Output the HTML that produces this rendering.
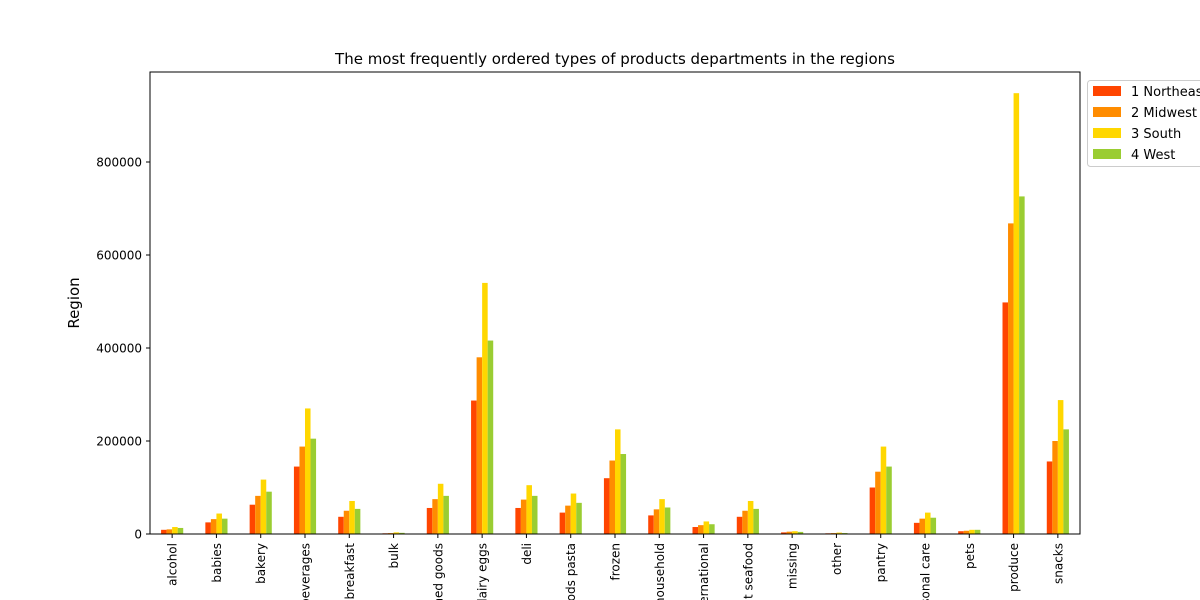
<!DOCTYPE html>
<html><head><meta charset="utf-8"><style>
html,body{margin:0;padding:0;background:#fff;width:1200px;height:600px;overflow:hidden}
svg{display:block;font-family:"DejaVu Sans","Liberation Sans",sans-serif;overflow:hidden}
</style></head><body>
<svg id="chart" width="1200" height="600" viewBox="0 0 1200 600" xmlns="http://www.w3.org/2000/svg">
<text x="615" y="64" font-size="15" text-anchor="middle">The most frequently ordered types of products departments in the regions</text>
<text transform="translate(79,303) rotate(-90)" font-size="15" text-anchor="middle">Region</text>
<g id="bars"></g>
<g id="axes"></g>
<g id="legend"></g>
</svg>
<script>
const categories=["alcohol","babies","bakery","beverages","breakfast","bulk","canned goods","dairy eggs","deli","dry goods pasta","frozen","household","international","meat seafood","missing","other","pantry","personal care","pets","produce","snacks"];
const seriesNames=["1 Northeast","2 Midwest","3 South","4 West"];
const northeast=[9000,25000,63000,145000,37000,1500,56000,287000,56000,46000,120000,40000,15000,37000,3500,1500,100000,24000,6000,498000,156000];
const midwest=[10000,32000,82000,188000,50000,2000,75000,380000,74000,61000,158000,53000,19000,50000,5000,2000,134000,33000,7000,668000,200000];
const south=[15000,44000,117000,270000,71000,3500,108000,540000,105000,87000,225000,75000,27000,71000,6000,3000,188000,46000,9000,948000,288000];
const west=[13000,33000,91000,205000,54000,2500,82000,416000,82000,67000,172000,57000,21000,54000,4500,2000,145000,35000,9000,726000,225000];
const yTicks=[0,200000,400000,600000,800000];
const colors=["#FF4500","#FF8C00","#FFD700","#9ACD32"];
const series=[northeast,midwest,south,west];
const NS="http://www.w3.org/2000/svg";
const L=150,R=1080,T=72,B=534;
const step=(R-L)/categories.length;
const bw=step*0.5/4;
function xPos(i){return L+step*(i+0.5);}
function yPos(v){return B-v*(B-441)/200000;}
function mk(t,a){const e=document.createElementNS(NS,t);for(const k in a)e.setAttribute(k,a[k]);return e;}
const bars=document.getElementById('bars'),axes=document.getElementById('axes'),leg=document.getElementById('legend');
series.forEach((s,si)=>{s.forEach((v,i)=>{
 const x=xPos(i)-2*bw+si*bw;
 const r=mk('rect',{x:x,y:yPos(v),width:bw,height:B-yPos(v),fill:colors[si]});
 
 
 bars.appendChild(r);});});
const frame=mk('rect',{x:L,y:T,width:R-L,height:B-T,fill:'none',stroke:'#000','stroke-width':1});


axes.appendChild(frame);
yTicks.forEach(v=>{const y=yPos(v);
 axes.appendChild(mk('line',{x1:L-4,x2:L,y1:y,y2:y,stroke:'#000'}));
 const t=mk('text',{x:L-8,y:y+4.5,'font-size':12,'text-anchor':'end'});t.textContent=v;
 
 
 axes.appendChild(t);});
categories.forEach((c,i)=>{const x=xPos(i);
 axes.appendChild(mk('line',{x1:x,x2:x,y1:B,y2:B+4,stroke:'#000'}));
 const t=mk('text',{transform:`translate(${x+4.5},${B+9}) rotate(-90)`,'font-size':12,'text-anchor':'end'});t.textContent=c;
 
 
 axes.appendChild(t);});
const lb=mk('rect',{x:1087.5,y:80.5,width:130,height:86,fill:'#fff',stroke:'#ccc',rx:3});


leg.appendChild(lb);
seriesNames.forEach((n,i)=>{const y=91+i*21;
 leg.appendChild(mk('rect',{x:1093,y:y-5,width:28,height:10,fill:colors[i]}));
 const t=mk('text',{x:1131,y:y+5,'font-size':13});t.textContent=n;
 
 
 leg.appendChild(t);});
</script>
</body></html>
